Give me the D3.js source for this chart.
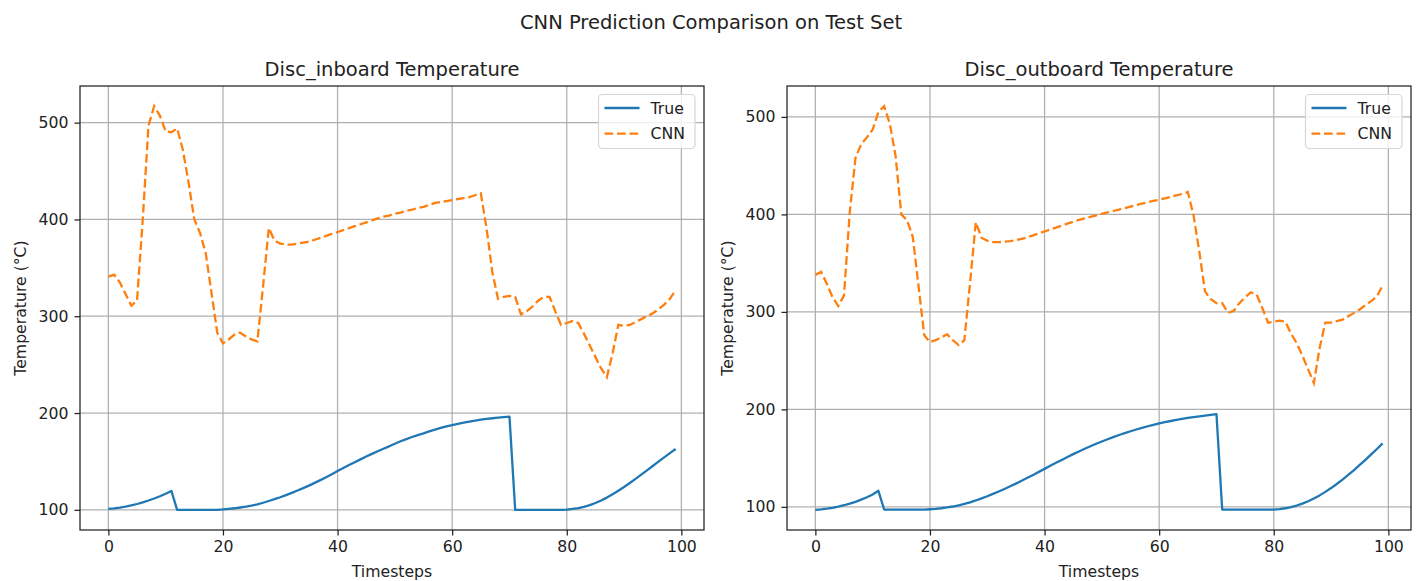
<!DOCTYPE html>
<html>
<head>
<meta charset="utf-8">
<script src="https://cdn.jsdelivr.net/npm/d3@7"></script>
<style>
    body { margin: 0; background: #ffffff; }
    svg text { font-family: "DejaVu Sans", sans-serif; fill: #222; }
</style>
</head>
<body>
<div class="graph"></div>
<script>
// Values, one per timestep (0..99)
const trueInboard = [
    101, 101.5, 102.3, 103.3, 104.5, 106, 107.7, 109.6, 111.7, 114, 116.6, 119.5,
    100, 100, 100, 100, 100, 100, 100, 100, 100.4,
    101, 101.6, 102.4, 103.2, 104.3, 105.7, 107.3, 109.1, 111, 113,
    115.2, 117.5, 119.9, 122.4, 125, 127.8, 130.7, 133.7, 136.8, 140,
    143.1, 146.2, 149.2, 152.1, 155, 157.8, 160.5, 163.1, 165.6, 168.3,
    170.8, 173.1, 175.2, 177.2, 179, 181, 182.9, 184.6, 186.2, 187.6,
    188.9, 190.1, 191.2, 192.2, 193.1, 193.9, 194.6, 195.2, 195.8, 196.3,
    100, 100, 100, 100, 100, 100, 100, 100, 100,
    100.3, 100.9, 101.8, 103.1, 104.8, 107, 109.6, 112.6, 116, 119.7,
    123.6, 127.7, 132, 136.4, 140.8, 145.3, 149.8, 154.2, 158.6, 162.8
];
const cnnInboard = [
    341, 343, 335, 323, 311, 316, 400, 497, 517, 507,
    491, 490, 494, 472, 438, 400, 386, 365, 324, 283,
    272, 276, 281, 283, 279, 276, 274, 331, 391, 378,
    375, 374, 374, 375, 376, 377, 379, 381, 383, 385,
    387, 389, 391, 393, 395, 397, 399, 401, 403, 404,
    406, 407, 409, 410, 412, 413, 415, 417, 418, 419,
    420, 421, 422, 423, 425, 427, 391, 346, 318, 320,
    321, 320, 302, 305, 310, 316, 320, 320, 305, 291,
    293, 295, 293, 282, 270, 258, 246, 237, 262, 291,
    290, 291, 294, 297, 300, 303, 307, 312, 318, 327
];
const trueOutboard = [
    97, 97.5, 98.2, 99.1, 100.3, 101.7, 103.3, 105.2, 107.4, 109.9, 112.8, 116.5,
    97.3, 97.3, 97.3, 97.3, 97.3, 97.3, 97.3, 97.3, 97.6,
    98, 98.6, 99.4, 100.4, 101.6, 103, 104.7, 106.6, 108.7, 110.9,
    113.3, 115.8, 118.4, 121.1, 123.9, 126.8, 129.8, 132.8, 135.9, 139,
    142.1, 145.2, 148.2, 151.2, 154.1, 156.9, 159.6, 162.2, 164.7, 167.1,
    169.4, 171.6, 173.7, 175.7, 177.6, 179.4, 181.1, 182.7, 184.2, 185.6,
    186.9, 188.1, 189.2, 190.2, 191.2, 192.1, 192.9, 193.7, 194.4, 195.1,
    97.3, 97.3, 97.3, 97.3, 97.3, 97.3, 97.3, 97.3, 97.3, 97.3,
    97.8, 98.6, 99.8, 101.4, 103.4, 105.8, 108.6, 111.8, 115.4,
    119.3, 123.5, 128, 132.8, 137.8, 143, 148.3, 153.8, 159.4, 165.2
];
const cnnOutboard = [
    338, 341, 329, 315, 306, 317, 402, 458, 472, 479,
    487, 505, 511, 493, 460, 400, 394, 377, 327, 276,
    269, 271, 274, 277, 271, 266, 271, 330, 392, 376,
    373, 371.5, 371.5, 372, 372.5, 373.5, 375, 376.5, 378.5, 380.5,
    382.5, 384.5, 386.5, 388.5, 390.5, 392.5, 394.5, 396, 397.5, 399,
    400.5, 402, 403.5, 405, 406.5, 408, 409.5, 411, 412.5, 414,
    415, 416.5, 418, 419.5, 421, 423, 399, 362, 321, 313,
    309, 309, 299, 301, 309, 315, 320, 318, 304, 289,
    290, 291, 290, 278, 268, 255, 241, 227, 263, 289,
    289, 290.5, 292, 295.5, 299, 302.5, 307, 311, 316, 327
];

const xTicks = [0, 20, 40, 60, 80, 100];
const yTicks = [100, 200, 300, 400, 500];
const seriesNames = ["True", "CNN"];
const panelTitles = ["Disc_inboard Temperature", "Disc_outboard Temperature"];
const figureTitle = "CNN Prediction Comparison on Test Set";

// The dimensions of the figure and the two sets of axes
const dimensions = {
    width: 1422,
    height: 581,
    top: 86,
    bottom: 530,
    panels: [
        { left: 80, right: 704 },
        { left: 787, right: 1411 }
    ]
};

const colors = { True: "#1f77b4", CNN: "#ff7f0e" };
const tickFont = 15.7;
const titleFont = 19.5;

const svg = d3.select(".graph")
    .append("svg")
        .attr("width", dimensions.width)
        .attr("height", dimensions.height);

svg.append("text")
    .attr("x", dimensions.width / 2)
    .attr("y", 29)
    .attr("text-anchor", "middle")
    .style("font-size", titleFont + "px")
    .text(figureTitle);

// matplotlib style auto limits: data extent plus 5% either side
function paddedExtent(values) {
    const [lo, hi] = d3.extent(values);
    const pad = (hi - lo) * 0.05;
    return [lo - pad, hi + pad];
}

function drawPanel(panel, title, trueValues, cnnValues) {
    const xScale = d3.scaleLinear()
        .domain(paddedExtent([0, trueValues.length - 1]))
        .range([panel.left, panel.right]);
    const yScale = d3.scaleLinear()
        .domain(paddedExtent(trueValues.concat(cnnValues)))
        .range([dimensions.bottom, dimensions.top]);

    const g = svg.append("g");

    // grid lines
    g.append("g")
        .selectAll("line")
        .data(xTicks)
        .join("line")
            .attr("x1", d => xScale(d))
            .attr("x2", d => xScale(d))
            .attr("y1", dimensions.top)
            .attr("y2", dimensions.bottom)
            .attr("stroke", "#b0b0b0")
            .attr("stroke-width", 1.25);
    g.append("g")
        .selectAll("line")
        .data(yTicks)
        .join("line")
            .attr("x1", panel.left)
            .attr("x2", panel.right)
            .attr("y1", d => yScale(d))
            .attr("y2", d => yScale(d))
            .attr("stroke", "#b0b0b0")
            .attr("stroke-width", 1.25);

    // axes
    const xAxis = g.append("g")
        .attr("transform", `translate(0,${dimensions.bottom})`)
        .call(d3.axisBottom(xScale).tickValues(xTicks).tickSize(5.5).tickPadding(5));
    const yAxis = g.append("g")
        .attr("transform", `translate(${panel.left},0)`)
        .call(d3.axisLeft(yScale).tickValues(yTicks).tickSize(5.5).tickPadding(6));
    [xAxis, yAxis].forEach(a => {
        a.select(".domain").remove();
        a.selectAll(".tick line").attr("stroke", "#222").attr("stroke-width", 1.25);
        a.selectAll(".tick text")
            .style("font-family", "DejaVu Sans, sans-serif")
            .style("font-size", tickFont + "px")
            .attr("fill", "#222");
    });

    // the data lines
    const lineGenerator = d3.line()
        .x((d, i) => xScale(i))
        .y(d => yScale(d));
    g.append("path")
        .attr("d", lineGenerator(trueValues))
        .attr("fill", "none")
        .attr("stroke", colors.True)
        .attr("stroke-width", 2.3)
        .attr("stroke-linejoin", "round");
    g.append("path")
        .attr("d", lineGenerator(cnnValues))
        .attr("fill", "none")
        .attr("stroke", colors.CNN)
        .attr("stroke-width", 2.3)
        .attr("stroke-dasharray", "8.7,3.8");

    // spines
    g.append("rect")
        .attr("x", panel.left)
        .attr("y", dimensions.top)
        .attr("width", panel.right - panel.left)
        .attr("height", dimensions.bottom - dimensions.top)
        .attr("fill", "none")
        .attr("stroke", "#222")
        .attr("stroke-width", 1.25);

    const centerX = (panel.left + panel.right) / 2;
    g.append("text")
        .attr("x", centerX)
        .attr("y", 76)
        .attr("text-anchor", "middle")
        .style("font-size", titleFont + "px")
        .text(title);
    g.append("text")
        .attr("x", centerX)
        .attr("y", 577)
        .attr("text-anchor", "middle")
        .style("font-size", tickFont + "px")
        .text("Timesteps");
    g.append("text")
        .attr("transform", `translate(${panel.left - 60},${(dimensions.top + dimensions.bottom) / 2}) rotate(-90)`)
        .attr("text-anchor", "middle")
        .attr("dominant-baseline", "central")
        .style("font-size", tickFont + "px")
        .text("Temperature (°C)");

    // legend in the upper right corner
    const legendWidth = 96.5;
    const legendX = panel.right - 9 - legendWidth;
    const legendY = dimensions.top + 8.5;
    const legend = g.append("g");
    legend.append("rect")
        .attr("x", legendX)
        .attr("y", legendY)
        .attr("width", legendWidth)
        .attr("height", 54)
        .attr("rx", 4)
        .attr("fill", "#ffffff")
        .attr("fill-opacity", 0.8)
        .attr("stroke", "#d6d6d6")
        .attr("stroke-width", 1.2);
    const rows = legend.selectAll("g.row")
        .data(seriesNames)
        .join("g")
            .attr("class", "row")
            .attr("transform", (d, i) => `translate(${legendX},${legendY + 13.5 + i * 25.6})`);
    rows.append("line")
        .attr("x1", 6)
        .attr("x2", 41)
        .attr("stroke", d => colors[d])
        .attr("stroke-width", 2.3)
        .attr("stroke-dasharray", d => d === "CNN" ? "8.7,3.8" : null);
    rows.append("text")
        .attr("x", 52)
        .attr("dominant-baseline", "central")
        .style("font-size", tickFont + "px")
        .text(d => d);
}

drawPanel(dimensions.panels[0], panelTitles[0], trueInboard, cnnInboard);
drawPanel(dimensions.panels[1], panelTitles[1], trueOutboard, cnnOutboard);
</script>
</body>
</html>
